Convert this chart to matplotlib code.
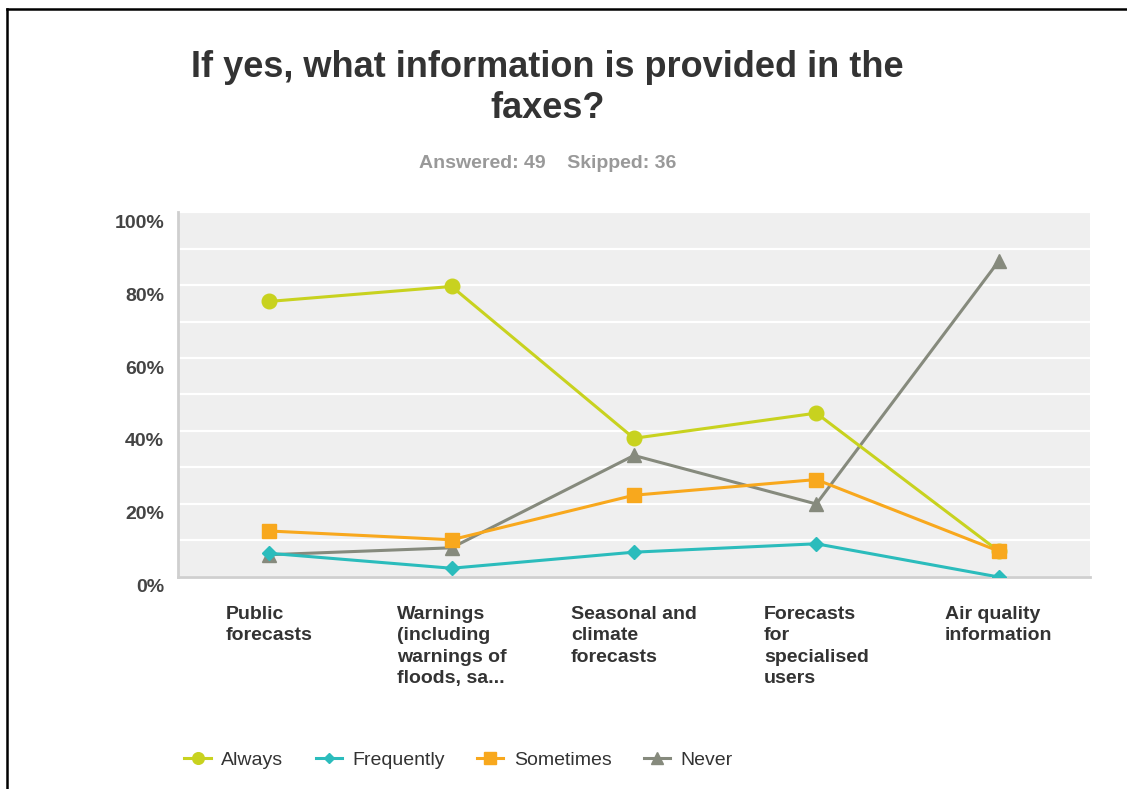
import numpy as np
import matplotlib
matplotlib.use('Agg')
import matplotlib.pyplot as plt
import matplotlib.transforms as mtransforms
from matplotlib.lines import Line2D

plt.rcParams['font.family'] = ['Liberation Sans', 'DejaVu Sans']

# Survey results (% of respondents)
categories = ['Public\nforecasts',
              'Warnings\n(including\nwarnings of\nfloods, sa...',
              'Seasonal and\nclimate\nforecasts',
              'Forecasts\nfor\nspecialised\nusers',
              'Air quality\ninformation']
always = [75.5, 79.6, 38.0, 44.9, 7.1]
frequently = [6.5, 2.4, 6.8, 9.1, 0.0]
sometimes = [12.6, 10.2, 22.4, 26.7, 7.1]
never = [6.1, 8.0, 33.3, 20.0, 86.5]

y_ticks = [0, 20, 40, 60, 80, 100]
y_tick_labels = ['0%', '20%', '40%', '60%', '80%', '100%']

fig = plt.figure(figsize=(11.27, 7.89), dpi=100)
ax = fig.add_axes([0.158, 0.2687, 0.809, 0.4626])
ax.set_facecolor('#efefef')

x = np.arange(len(categories))
ms = 10.5
lw = 2.2
ax.plot(x, never, color='#868a7d', marker='^', ms=ms, lw=lw, label='Never', zorder=3)
ax.plot(x, always, color='#c8d21f', marker='o', ms=ms, lw=lw, label='Always', zorder=4)
ax.plot(x, frequently, color='#2bbcbc', marker='D', ms=7, lw=lw, label='Frequently', zorder=5)
ax.plot(x, sometimes, color='#f8a81d', marker='s', ms=10, lw=lw, label='Sometimes', zorder=6)

ax.set_xlim(-0.5, len(categories) - 0.5)
ax.set_ylim(0, 100)
ax.set_yticks(y_ticks)
ax.set_yticklabels(y_tick_labels)
ax.set_yticks(np.arange(10, 100, 20), minor=True)
ax.grid(True, which='both', axis='y', color='white', lw=1.6)
ax.set_axisbelow(True)

ax.set_xticks(x)
ax.set_xticklabels(categories)
for lbl in ax.get_xticklabels():
    lbl.set_multialignment('left')
    lbl.set_verticalalignment('top')
    lbl.set_linespacing(1.33)

ax.tick_params(axis='x', length=0, pad=21, labelsize=14, labelcolor='#333333')
ax.tick_params(axis='y', which='both', length=0, pad=10, labelsize=14, labelcolor='#444444')
for lbl in ax.get_xticklabels() + ax.get_yticklabels():
    lbl.set_fontweight('bold')

# y labels sit a little below their grid lines
shift = mtransforms.ScaledTranslation(0, -0.09, fig.dpi_scale_trans)
for lbl in ax.get_yticklabels():
    lbl.set_transform(lbl.get_transform() + shift)

for side in ['top', 'right']:
    ax.spines[side].set_visible(False)
for side in ['left', 'bottom']:
    ax.spines[side].set_color('#cfcfcf')
    ax.spines[side].set_linewidth(2)

fig.text(0.4855, 0.889, 'If yes, what information is provided in the\nfaxes?',
         ha='center', va='center', fontsize=26, fontweight='bold',
         color='#333333', linespacing=1.22)
fig.text(0.4862, 0.793, 'Answered: 49    Skipped: 36', ha='center', va='center',
         fontsize=14, fontweight='bold', color='#999999')

handles, labels = ax.get_legend_handles_labels()
order = [1, 2, 3, 0]
fig.legend([handles[i] for i in order], [labels[i] for i in order],
           loc='center left', bbox_to_anchor=(0.155, 0.0368), ncol=4,
           frameon=False, fontsize=14, borderpad=0, handlelength=1.35,
           handletextpad=0.55, columnspacing=1.65, markerscale=0.8,
           labelcolor='#333333')

# frame lines along the top and left edges
fig.add_artist(Line2D([0.0062, 1.0], [0.9886, 0.9886], color='black', lw=1.8))
fig.add_artist(Line2D([0.0062, 0.0062], [0.0, 0.9886], color='black', lw=1.8))

fig.savefig('out.png', dpi=100)
